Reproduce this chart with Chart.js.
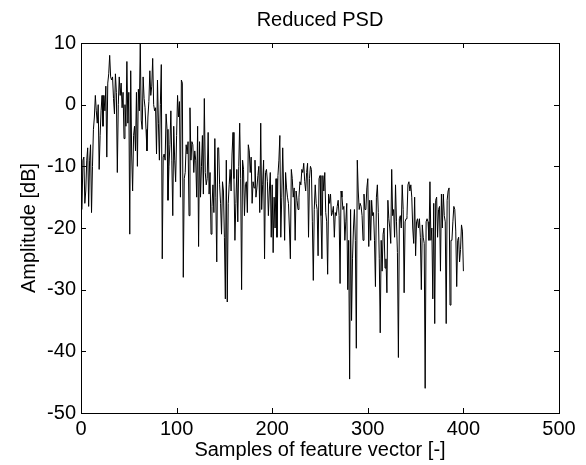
<!DOCTYPE html>
<html>
<head>
<meta charset="utf-8">
<script src="https://cdn.jsdelivr.net/npm/chart.js@4/dist/chart.umd.min.js"></script>
<style>
  body { margin: 0; background: #fff; }
</style>
</head>
<body>
<canvas id="psdChart" width="586" height="465"></canvas>
<script>
  // reduced PSD, one value per sample (dB)
  const amplitudeDb = [
    -17, -9, -8.5, -16, -14, -9, -7, -16.5, -9, -6.5,
    -17.5, -10, -4, -2, 1.5, -1, -3, 0, -10.5, -5,
    -1, 1.5, -3.5, 1.5, -1, 3, -8.5, 3.5, 5, 8,
    4.5, 4, 4.5, 1, -1.5, 5, 2, -11, 0, 4.5,
    1.5, 3.5, -0.5, 2, -5.5, 0, -3.5, 7, -3, 2,
    -21, 5.5, -8, -14, -5, -3.5, -7.5, 2, -10, 2.5,
    -1, 10, -2.5, -4, 4.5, 1, -0.5, -4, -7.5, -2,
    0.5, 5.5, 1.5, 3, 7.5, 0, -1, -0.5, -8, 4,
    -3, -9, 0, 6.5, -25, -8.5, -8, -9, -1.5, -4,
    -15.5, -10, -6.5, -1, -9, -18, -3.5, -9, -12.5, -5,
    1.5, -2, 0.5, -15, 4, 3.5, -28, -12, -11, -6.5,
    -8, -6, -18, -0.5, -9, -6, -6.5, -11, -7.5, -9,
    -15, -3.5, -23, -6, -15, -10, -5, -14.5, 1, -11,
    -13, -12, -4.5, -14.5, -11, -21, -16.5, -13, -17.5, -5.5,
    -15, -25.5, -7, -7, -13, -16, -21, -12.5, -14, -21.5,
    -31.5, -9, -32, -16, -13, -10.5, -14, -8, -4.5, -12,
    -22, -16, -10.5, -19, -10, -3, -12, -30, -9, -10.5,
    -18, -13, -12.5, -17.5, -6.5, -7.5, -11, -8.5, -16, -12.5,
    -13.5, -9, -15, -13.5, -11.5, -10, -17.5, -3, -17, -13,
    -9, -25, -11, -10.5, -12.5, -18, -14, -11, -21.5, -13,
    -24, -15, -20, -12, -21.5, -11.5, -9, -5, -21.5, -15,
    -7, -14, -22, -11, -13.5, -15, -16, -20, -25, -10.5,
    -12, -15, -13.5, -22, -14, -15.5, -17, -15, -12.5, -13,
    -10.5, -11, -9.5, -12.5, -14, -11, -9.5, -21.5, -12, -10,
    -10.5, -19, -28.5, -17, -13, -16, -17, -24.5, -12, -11.5,
    -18, -25, -11.5, -14, -11, -17.5, -19, -27.5, -14.5, -16,
    -14.5, -18, -17.5, -16.5, -21.5, -17.5, -18, -16.5, -15.5, -18,
    -29, -14, -15, -17, -16.5, -22, -19, -16, -30, -22,
    -44.5, -17, -35, -25, -20, -17, -22, -39.5, -9, -14,
    -17, -16, -16.5, -18, -22, -14.5, -17, -17, -13.5, -12,
    -23, -15.5, -22, -15.5, -18, -17.5, -22, -29.5, -15, -13,
    -17.5, -25, -37, -22, -27, -21, -20, -26.5, -25, -30.5,
    -15.5, -18.5, -20, -22.5, -10.5, -18, -17, -21.5, -13, -19,
    -24, -41, -18.5, -18, -20, -13, -17, -30.5, -19, -18.5,
    -18, -13, -12.5, -14, -13, -15, -20, -22.5, -15, -24.5,
    -19, -18.5, -20, -18.5, -21.5, -30, -19.5, -21.5, -22.5, -46,
    -19, -18.5, -19, -22, -12.5, -22, -20, -31.5, -16, -35.5,
    -15.5, -15, -21.5, -17, -16.5, -27, -14.5, -20, -14.5, -18,
    -19, -35.5, -15.5, -14, -13.5, -32.5, -22, -22, -19, -16.5,
    -17, -20.5, -29.5, -22, -21.5, -25.5, -23.5, -19.5, -20.5, -27
  ];
  // sample number of each value (1-based)
  const sampleIndex = amplitudeDb.map((_, i) => i + 1);

  const xTicks = [0, 100, 200, 300, 400, 500];
  const yTicks = [-50, -40, -30, -20, -10, 0, 10];

  const FONT = { family: '"Liberation Sans", Arial, sans-serif', size: 20, weight: 'normal' };

  // matlab style box with ticks pointing inward on all four sides
  const boxTicks = {
    id: 'boxTicks',
    afterDraw(chart) {
      const { ctx, chartArea: a, scales } = chart;
      const len = 5;
      ctx.save();
      ctx.strokeStyle = '#000';
      ctx.lineWidth = 1;
      ctx.beginPath();
      xTicks.forEach(v => {
        const px = Math.round(scales.x.getPixelForValue(v)) + 0.5;
        ctx.moveTo(px, a.bottom); ctx.lineTo(px, a.bottom - len);
        ctx.moveTo(px, a.top); ctx.lineTo(px, a.top + len);
      });
      yTicks.forEach(v => {
        const py = Math.round(scales.y.getPixelForValue(v)) + 0.5;
        ctx.moveTo(a.left, py); ctx.lineTo(a.left + len, py);
        ctx.moveTo(a.right, py); ctx.lineTo(a.right - len, py);
      });
      ctx.stroke();
      ctx.strokeRect(Math.round(a.left) + 0.5, Math.round(a.top) + 0.5,
        Math.round(a.right - a.left), Math.round(a.bottom - a.top));
      ctx.restore();
    }
  };

  new Chart(document.getElementById('psdChart'), {
    type: 'line',
    data: {
      labels: sampleIndex,
      datasets: [{
        data: amplitudeDb,
        borderColor: '#000',
        borderWidth: 1,
        pointRadius: 0,
        tension: 0,
        fill: false
      }]
    },
    options: {
      responsive: false,
      animation: false,
      layout: { padding: { left: 0, right: 27, top: 0, bottom: 0 } },
      plugins: {
        legend: { display: false },
        tooltip: { enabled: false },
        title: {
          display: true,
          text: 'Reduced PSD',
          color: '#000',
          font: FONT,
          fullSize: false,
          padding: { top: 8, bottom: 11 }
        }
      },
      scales: {
        x: {
          type: 'linear',
          min: 0,
          max: 500,
          afterFit: s => { s.height = 52; },
          afterBuildTicks: s => { s.ticks = xTicks.map(v => ({ value: v })); },
          grid: { display: false, drawTicks: false, tickLength: 0 },
          border: { display: false },
          ticks: { color: '#000', font: FONT, padding: 4, maxRotation: 0 },
          title: {
            display: true,
            text: 'Samples of feature vector [-]',
            color: '#000',
            font: FONT,
            padding: { top: 0, bottom: 3 }
          }
        },
        y: {
          min: -50,
          max: 10,
          afterFit: s => { s.width = 81; },
          afterBuildTicks: s => { s.ticks = yTicks.map(v => ({ value: v })); },
          grid: { display: false, drawTicks: false, tickLength: 0 },
          border: { display: false },
          ticks: { color: '#000', font: FONT, padding: 5 },
          title: {
            display: true,
            text: 'Amplitude [dB]',
            color: '#000',
            font: FONT,
            padding: { top: 17, bottom: 0 }
          }
        }
      }
    },
    plugins: [boxTicks]
  });
</script>
</body>
</html>
